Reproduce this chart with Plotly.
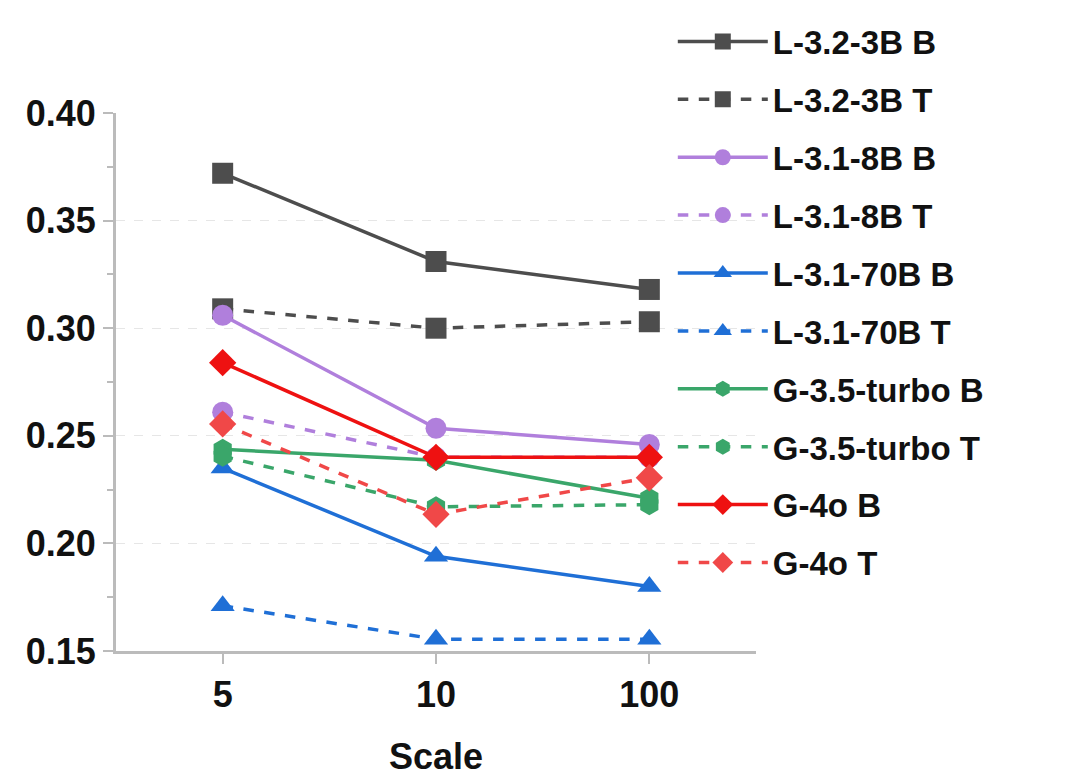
import plotly.graph_objects as go

scales = ["5", "10", "100"]
l32_b = [0.372, 0.331, 0.318]
l32_t = [0.309, 0.300, 0.303]
l8_b = [0.306, 0.2535, 0.246]
l8_t = [0.261, 0.240, 0.240]
l70_b = [0.235, 0.194, 0.180]
l70_t = [0.171, 0.1555, 0.1555]
g35_b = [0.2437, 0.2386, 0.221]
g35_t = [0.2405, 0.217, 0.218]
g4_b = [0.284, 0.240, 0.240]
g4_t = [0.2555, 0.2135, 0.2305]

series = [
    ("L-3.2-3B B", l32_b, "#4d4d4d", "solid", "square"),
    ("L-3.2-3B T", l32_t, "#4d4d4d", "dash", "square"),
    ("L-3.1-8B B", l8_b, "#b07fdc", "solid", "circle"),
    ("L-3.1-8B T", l8_t, "#b07fdc", "dash", "circle"),
    ("L-3.1-70B B", l70_b, "#1f6fd6", "solid", "triangle-up"),
    ("L-3.1-70B T", l70_t, "#1f6fd6", "dash", "triangle-up"),
    ("G-3.5-turbo B", g35_b, "#3aa66a", "solid", "hexagon"),
    ("G-3.5-turbo T", g35_t, "#3aa66a", "dash", "hexagon"),
    ("G-4o B", g4_b, "#ee1111", "solid", "diamond"),
    ("G-4o T", g4_t, "#f04848", "dash", "diamond"),
]

fig = go.Figure()
for i, (name, vals, col, dash, sym) in enumerate(series):
    fig.add_trace(go.Scatter(
        x=scales, y=vals, name=name, mode="lines+markers",
        line=dict(color=col, width=3.5, dash=dash),
        marker=dict(symbol=sym, size=21, color=col),
        legendgroup=f"g{i}",
    ))

fam = "Liberation Sans, Arial, sans-serif"
fig.update_layout(
    width=1080, height=773,
    paper_bgcolor="white", plot_bgcolor="white",
    margin=dict(l=108, r=332, t=105, b=130, autoexpand=False),
    font=dict(family=fam, size=30, color="#111"),
    showlegend=True,
    legend=dict(x=0.87, y=1.185, xanchor="left", yanchor="top",
                font=dict(family=fam, size=33, color="#111", weight="bold"),
                bgcolor="rgba(255,255,255,0)", tracegroupgap=12, itemwidth=90,
                maxheight=1),
    xaxis=dict(
        type="category", range=[-0.5, 2.5],
        title=dict(text="<b>Scale</b>", font=dict(size=36), standoff=30),
        tickfont=dict(size=36, weight="bold"),
        showline=True, linecolor="#bbbbbb", linewidth=3,
        ticks="outside", ticklen=10, tickcolor="#bbbbbb", tickwidth=2,
        showgrid=False, zeroline=False,
    ),
    yaxis=dict(
        range=[0.15, 0.40], dtick=0.05, tickformat=".2f",
        tickfont=dict(size=36, weight="bold"),
        showline=True, linecolor="#bbbbbb", linewidth=3,
        ticks="outside", ticklen=10, tickcolor="#bbbbbb", tickwidth=2,
        minor=dict(dtick=0.025, ticks="outside", ticklen=6, tickcolor="#bbbbbb"),
        showgrid=True, gridcolor="#e6e6e6", griddash="dash", gridwidth=1,
        zeroline=False,
    ),
)
fig.write_html("out.html")
